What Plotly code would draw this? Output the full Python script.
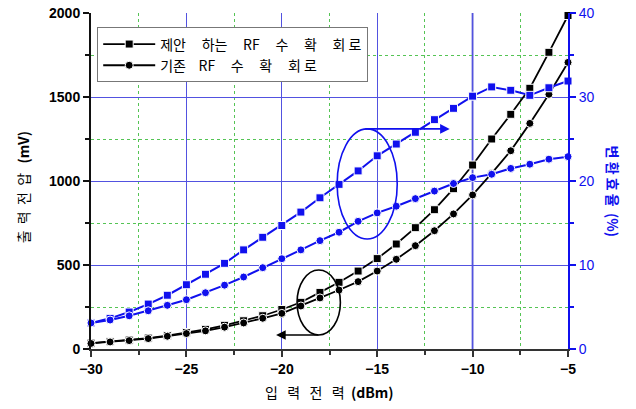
import plotly.graph_objects as go

x_dbm = [-30, -29, -28, -27, -26, -25, -24, -23, -22, -21, -20, -19, -18,
         -17, -16, -15, -14, -13, -12, -11, -10, -9, -8, -7, -6, -5]

# output voltage (mV)
v_proposed = [35, 44, 53, 65, 80, 98, 117, 141, 168, 198, 235, 278, 337,
              397, 464, 538, 625, 722, 829, 954, 1095, 1250, 1397, 1552, 1766, 1985]
v_existing = [33, 42, 50, 62, 76, 92, 108, 130, 155, 183, 212, 256, 304,
              351, 401, 464, 534, 615, 704, 804, 917, 1045, 1180, 1343, 1516, 1706]

# efficiency (%)
e_proposed = [3.1, 3.65, 4.4, 5.35, 6.4, 7.65, 8.9, 10.2, 11.8, 13.3, 14.7, 16.3, 18.0,
              19.6, 21.2, 23.0, 24.4, 25.8, 27.3, 28.65, 30.1, 31.2, 30.8, 30.2, 31.1, 31.9]
e_existing = [3.1, 3.45, 3.95, 4.55, 5.2, 5.87, 6.7, 7.6, 8.57, 9.68, 10.75, 11.8, 12.9,
              13.9, 15.2, 16.2, 17.0, 17.9, 18.8, 19.7, 20.4, 20.8, 21.5, 22.0, 22.6, 22.9]

# minor tick positions
x_minor = [-27.5, -22.5, -17.5, -12.5, -7.5]
y_minor = [250, 750, 1250, 1750]
y2_minor = [5, 15, 25, 35]

S = "\u00a0"
G = S * 5
name_proposed = f"제안{G}하는{G}RF{G}수{G}확{G}회{S}로"
name_existing = f"기존{S*4}RF{G}수{G}확{G}회{S}로"
x_title = f"입{S*3}력{S*3}전{S*3}력{S*2}<b>(dBm)</b>"
y_title = f"출{S*2}력{S*2}전{S*2}압{S*3}<b>(mV)</b>"
y2_title = f"<b>변{S}환{S}효{S}율{S*2}(%)</b>"

KR = "Noto Sans CJK KR"
ARIAL = "Liberation Sans"
BLUE = "#1010ee"
GRID = "#5252e0"
MGRID = "#55c455"

fig = go.Figure()

# highlighted grid line at -10 dBm
fig.add_shape(type="line", xref="x", yref="paper", x0=-10, x1=-10, y0=0, y1=1,
              line=dict(color="#a0a0e6", width=2.5), layer="below")

fig.add_trace(go.Scatter(x=x_dbm, y=e_proposed, yaxis="y2", mode="lines+markers",
                         line=dict(color=BLUE, width=2),
                         marker=dict(symbol="square", size=8, color=BLUE,
                                     line=dict(color="white", width=1)),
                         showlegend=False, cliponaxis=False))
fig.add_trace(go.Scatter(x=x_dbm, y=e_existing, yaxis="y2", mode="lines+markers",
                         line=dict(color=BLUE, width=2),
                         marker=dict(symbol="circle", size=8, color=BLUE,
                                     line=dict(color="white", width=1)),
                         showlegend=False, cliponaxis=False))
fig.add_trace(go.Scatter(x=x_dbm, y=v_proposed, mode="lines+markers", name=name_proposed,
                         line=dict(color="black", width=1.8),
                         marker=dict(symbol="square", size=8, color="black",
                                     line=dict(color="white", width=1)),
                         cliponaxis=False))
fig.add_trace(go.Scatter(x=x_dbm, y=v_existing, mode="lines+markers", name=name_existing,
                         line=dict(color="black", width=1.8),
                         marker=dict(symbol="circle", size=8, color="black",
                                     line=dict(color="white", width=1)),
                         cliponaxis=False))

# ellipses and arrows
fig.add_shape(type="circle", xref="x", yref="y", x0=-17.1, x1=-13.95, y0=655, y1=1310,
              line=dict(color=BLUE, width=1.6))
fig.add_annotation(x=-11.2, y=1310, ax=-15.7, ay=1310, xref="x", yref="y",
                   axref="x", ayref="y", showarrow=True, arrowhead=2, arrowsize=1.2,
                   arrowwidth=1.6, arrowcolor=BLUE, text="")
fig.add_shape(type="circle", xref="x", yref="y", x0=-19.2, x1=-16.93, y0=83, y1=470,
              line=dict(color="black", width=1.6))
fig.add_annotation(x=-20.3, y=83, ax=-18.0, ay=83, xref="x", yref="y",
                   axref="x", ayref="y", showarrow=True, arrowhead=2, arrowsize=1.2,
                   arrowwidth=1.6, arrowcolor="black", text="")

# axis titles
fig.add_annotation(xref="paper", yref="paper", x=1.094, y=0.469, showarrow=False,
                   text=y2_title, textangle=90, xanchor="center", yanchor="middle",
                   font=dict(family=KR, size=14, color=BLUE))
fig.add_annotation(xref="paper", yref="paper", x=-0.142, y=0.482, showarrow=False,
                   text=y_title, textangle=-90, xanchor="center", yanchor="middle",
                   font=dict(family=KR, size=14, color="black"))
fig.add_annotation(xref="paper", yref="paper", x=0.5, y=-0.128, showarrow=False,
                   text=x_title, xanchor="center", yanchor="middle",
                   font=dict(family=KR, size=14, color="black"))

fig.update_layout(
    width=636, height=409,
    margin=dict(l=91, r=68, t=13, b=60, autoexpand=False),
    plot_bgcolor="white", paper_bgcolor="white",
    font=dict(family=ARIAL, size=13, color="black"),
    xaxis=dict(range=[-30, -5], dtick=5, tick0=-30, showgrid=True, automargin=False,
               gridcolor=GRID, gridwidth=1, ticklabeloverflow="allow",
               ticks="outside", ticklen=6, tickwidth=1.5, tickcolor="#333",
               showline=True, linecolor="#333", linewidth=2,
               tickfont=dict(family=ARIAL, size=14, weight="bold"),
               zeroline=False,
               minor=dict(tickmode="array", tickvals=x_minor, showgrid=True,
                          gridcolor=MGRID, griddash="dot",
                          gridwidth=1, ticks="outside", ticklen=4, tickcolor="#333")),
    xaxis2=dict(range=[-30, -5], dtick=5, overlaying="x", side="top", anchor="y",
                showgrid=False, ticks="inside", ticklen=5, tickwidth=1.5, tickcolor="#333",
                showticklabels=False, showline=True, linecolor="#333", linewidth=2,
                minor=dict(tickmode="array", tickvals=x_minor, ticks="inside",
                           ticklen=4, tickcolor="#333"),
                zeroline=False, automargin=False),
    yaxis=dict(range=[0, 2000], dtick=500, showgrid=True, automargin=False,
               gridcolor=GRID, gridwidth=1, ticklabeloverflow="allow",
               ticks="outside", ticklen=6, tickwidth=1.5, tickcolor="#111",
               showline=True, linecolor="#111", linewidth=2,
               tickfont=dict(family=ARIAL, size=14, weight="bold"),
               zeroline=False,
               minor=dict(tickmode="array", tickvals=y_minor, showgrid=True,
                          gridcolor=MGRID, griddash="dot",
                          gridwidth=1, ticks="outside", ticklen=4, tickcolor="#111")),
    yaxis2=dict(range=[0, 40], dtick=10, overlaying="y", side="right", automargin=False,
                showgrid=False, ticks="outside", ticklen=6, tickwidth=1.5, tickcolor=BLUE,
                showline=True, linecolor=BLUE, linewidth=2, ticklabeloverflow="allow",
                tickfont=dict(family=ARIAL, size=14, color=BLUE),
                zeroline=False,
                minor=dict(tickmode="array", tickvals=y2_minor, ticks="outside",
                           ticklen=4, tickcolor=BLUE)),
    legend=dict(x=0.013, y=0.957, xanchor="left", yanchor="top",
                bgcolor="white", bordercolor="#777", borderwidth=1,
                font=dict(family=KR, size=14), tracegroupgap=0,
                itemwidth=52),
)

fig.write_html("out.html", config={"displayModeBar": False},
               post_script="document.body.style.margin='0px';")
